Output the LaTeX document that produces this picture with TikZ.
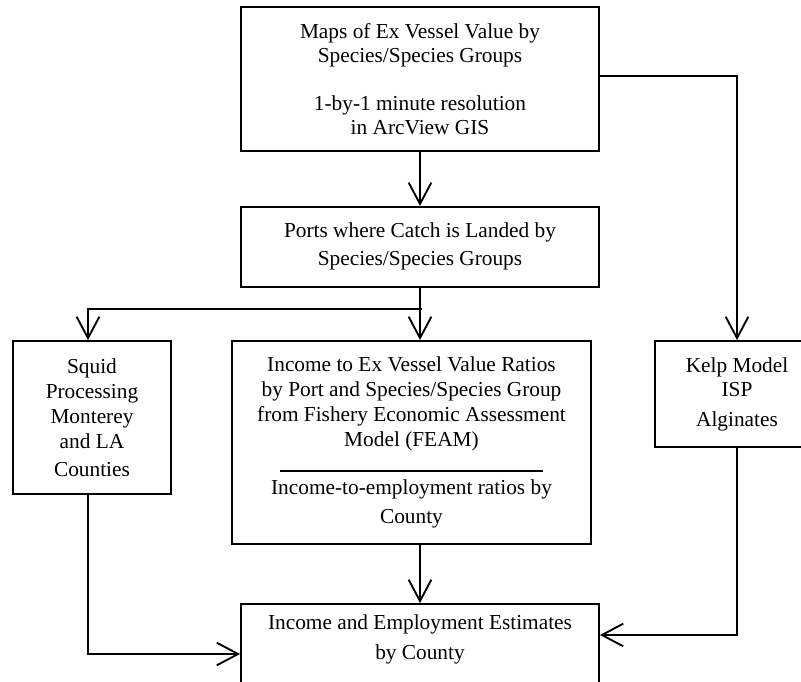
\documentclass[tikz,border=0pt]{standalone}
\usepackage{fontspec}
\setmainfont{Liberation Serif}
\usetikzlibrary{positioning}
\usetikzlibrary{arrows.meta}
\tikzset{edge/.style = {->,> = {Straight Barb[length=16pt,width=17pt]}}}

\begin{document}
\begin{tikzpicture}[x=0.75pt,y=-0.75pt,line width=1.4pt,box/.style={draw,align=center,inner sep=0pt,font=\fontsize{16}{18}\selectfont}]
        \useasboundingbox (0,0) rectangle (801,682);

        \node[box, minimum width=268.5pt, minimum height=108pt] (maps) at (420,79) {Maps of Ex Vessel Value by\\ Species/Species Groups\\[18pt] 1-by-1 minute resolution\\ in ArcView GIS};
        \node[box, minimum width=268.5pt, minimum height=60pt, font=\fontsize{16}{21}\selectfont] (ports) [below=40.5pt of maps] {Ports where Catch is Landed by\\ Species/Species Groups};
        \node[box, minimum width=118.5pt, minimum height=114.75pt, font=\fontsize{16}{18.75}\selectfont] (squid) at (92,417.5) {Squid\\ Processing\\ Monterey\\ and LA\\[2pt] Counties};
        \node[box, minimum width=269.25pt, minimum height=152.25pt, font=\fontsize{16}{18.75}\selectfont] (ratios) at (411.5,442.5) {Income to Ex Vessel Value Ratios\\ by Port and Species/Species Group\\ from Fishery Economic Assessment\\ Model (FEAM)\\ \rule{197pt}{1.2pt}\\[-1.5pt] Income-to-employment ratios by\\[3pt] County};
        \node[box, minimum width=123pt, minimum height=79.5pt] (kelp) at (737,394) {Kelp Model\\ ISP\\[4.5pt] Alginates};
        \node[box, minimum width=268.5pt, inner ysep=8pt, anchor=north, font=\fontsize{16}{22.5}\selectfont] (est) at (420,603) {Income and Employment Estimates\\ by County\\[40pt]\mbox{}};

        \coordinate (fork) at (421.5,309);

        \path[edge]
            (maps) edge (ports)
            (ports.south) edge (ports.south |- ratios.north)
            (est.north |- ratios.south) edge (est.north)
            ;
        \draw (ports.south) -- (ports.south |- fork);
        \draw[edge] (fork) -| ([xshift=-3pt]squid.north);
        \draw[edge] ([yshift=2.25pt]maps.east) -| (kelp.north);
        \draw[edge] (kelp.south) |- ([yshift=-24pt]est.north east);
        \draw[edge] ([xshift=-3pt]squid.south) |- ([yshift=-38.25pt]est.north west);
\end{tikzpicture}
\end{document}
